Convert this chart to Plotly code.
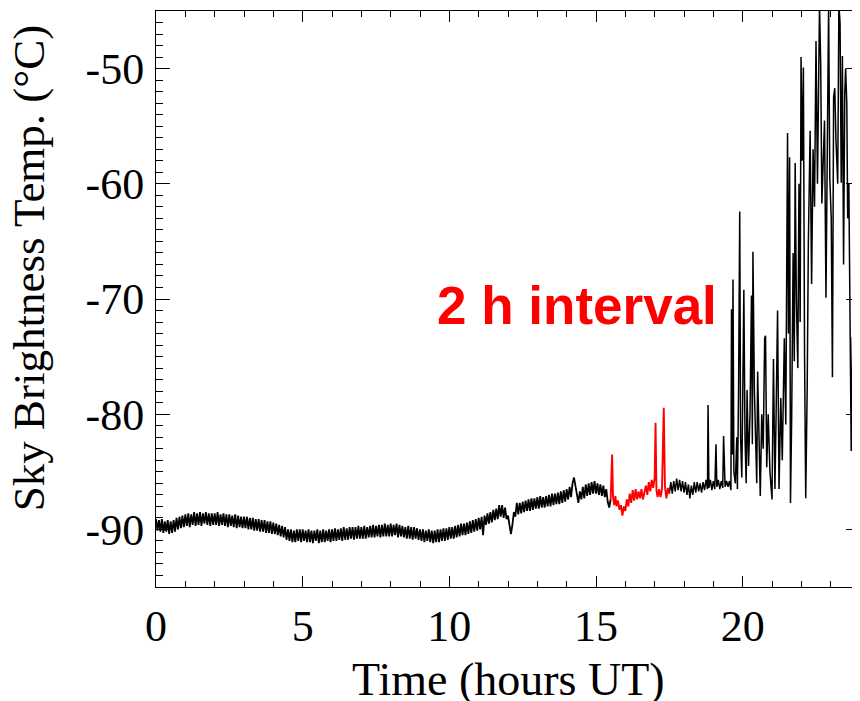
import plotly.graph_objects as go

# ---- black series, 0 h to 15.5 h (3-minute samples) ----
time_a = [
    0.00, 0.05, 0.10, 0.15, 0.20, 0.25, 0.30, 0.35, 0.40, 0.45, 0.50, 0.55, 0.60, 0.65, 0.70, 0.75, 0.80, 0.85, 0.90, 0.95,
    1.00, 1.05, 1.10, 1.15, 1.20, 1.25, 1.30, 1.35, 1.40, 1.45, 1.50, 1.55, 1.60, 1.65, 1.70, 1.75, 1.80, 1.85, 1.90, 1.95,
    2.00, 2.05, 2.10, 2.15, 2.20, 2.25, 2.30, 2.35, 2.40, 2.45, 2.50, 2.55, 2.60, 2.65, 2.70, 2.75, 2.80, 2.85, 2.90, 2.95,
    3.00, 3.05, 3.10, 3.15, 3.20, 3.25, 3.30, 3.35, 3.40, 3.45, 3.50, 3.55, 3.60, 3.65, 3.70, 3.75, 3.80, 3.85, 3.90, 3.95,
    4.00, 4.05, 4.10, 4.15, 4.20, 4.25, 4.30, 4.35, 4.40, 4.45, 4.50, 4.55, 4.60, 4.65, 4.70, 4.75, 4.80, 4.85, 4.90, 4.95,
    5.00, 5.05, 5.10, 5.15, 5.20, 5.25, 5.30, 5.35, 5.40, 5.45, 5.50, 5.55, 5.60, 5.65, 5.70, 5.75, 5.80, 5.85, 5.90, 5.95,
    6.00, 6.05, 6.10, 6.15, 6.20, 6.25, 6.30, 6.35, 6.40, 6.45, 6.50, 6.55, 6.60, 6.65, 6.70, 6.75, 6.80, 6.85, 6.90, 6.95,
    7.00, 7.05, 7.10, 7.15, 7.20, 7.25, 7.30, 7.35, 7.40, 7.45, 7.50, 7.55, 7.60, 7.65, 7.70, 7.75, 7.80, 7.85, 7.90, 7.95,
    8.00, 8.05, 8.10, 8.15, 8.20, 8.25, 8.30, 8.35, 8.40, 8.45, 8.50, 8.55, 8.60, 8.65, 8.70, 8.75, 8.80, 8.85, 8.90, 8.95,
    9.00, 9.05, 9.10, 9.15, 9.20, 9.25, 9.30, 9.35, 9.40, 9.45, 9.50, 9.55, 9.60, 9.65, 9.70, 9.75, 9.80, 9.85, 9.90, 9.95,
    10.00, 10.05, 10.10, 10.15, 10.20, 10.25, 10.30, 10.35, 10.40, 10.45, 10.50, 10.55, 10.60, 10.65, 10.70, 10.75, 10.80, 10.85, 10.90, 10.95,
    11.00, 11.05, 11.10, 11.15, 11.20, 11.25, 11.30, 11.35, 11.40, 11.45, 11.50, 11.55, 11.60, 11.65, 11.70, 11.75, 11.80, 11.85, 11.90, 11.95,
    12.00, 12.05, 12.10, 12.15, 12.20, 12.25, 12.30, 12.35, 12.40, 12.45, 12.50, 12.55, 12.60, 12.65, 12.70, 12.75, 12.80, 12.85, 12.90, 12.95,
    13.00, 13.05, 13.10, 13.15, 13.20, 13.25, 13.30, 13.35, 13.40, 13.45, 13.50, 13.55, 13.60, 13.65, 13.70, 13.75, 13.80, 13.85, 13.90, 13.95,
    14.00, 14.05, 14.10, 14.15, 14.20, 14.25, 14.30, 14.35, 14.40, 14.45, 14.50, 14.55, 14.60, 14.65, 14.70, 14.75, 14.80, 14.85, 14.90, 14.95,
    15.00, 15.05, 15.10, 15.15, 15.20, 15.25, 15.30, 15.35, 15.40, 15.45, 15.50,
]
temp_a = [
    -89.1, -90.1, -89.2, -90.2, -89.1, -90.3, -89.3, -90.2, -89.2, -90.4, -89.3, -90.3, -89.2, -90.2, -89.0, -90.0, -88.9, -89.9, -88.8, -89.8,
    -88.7, -89.7, -88.6, -89.8, -88.7, -89.6, -88.5, -89.7, -88.6, -89.6, -88.5, -89.7, -88.6, -89.5, -88.5, -89.6, -88.6, -89.7, -88.6, -89.6,
    -88.6, -89.6, -88.5, -89.7, -88.7, -89.6, -88.6, -89.7, -88.7, -89.8, -88.7, -89.7, -88.8, -89.8, -88.7, -89.9, -88.8, -89.8, -88.9, -89.9,
    -88.9, -89.9, -88.9, -90.0, -89.0, -90.0, -89.0, -90.1, -89.1, -90.1, -89.1, -90.2, -89.2, -90.2, -89.2, -90.3, -89.3, -90.3, -89.3, -90.4,
    -89.4, -90.4, -89.5, -90.5, -89.6, -90.6, -89.7, -90.7, -89.8, -90.9, -90.0, -91.0, -90.0, -91.1, -90.1, -91.1, -90.0, -91.0, -90.0, -91.1,
    -90.0, -91.0, -90.1, -91.1, -90.0, -91.1, -90.1, -91.2, -90.1, -91.0, -90.0, -91.2, -90.1, -91.1, -90.0, -91.1, -90.1, -91.0, -90.0, -91.1,
    -90.0, -91.0, -89.9, -91.0, -90.0, -90.9, -89.9, -91.0, -89.8, -90.9, -89.9, -90.9, -89.8, -90.8, -89.8, -90.9, -89.8, -90.8, -89.7, -90.8,
    -89.8, -90.8, -89.7, -90.8, -89.8, -90.7, -89.7, -90.7, -89.6, -90.7, -89.7, -90.6, -89.6, -90.7, -89.6, -90.6, -89.5, -90.6, -89.6, -90.6,
    -89.5, -90.6, -89.6, -90.5, -89.5, -90.7, -89.6, -90.6, -89.7, -90.7, -89.8, -90.8, -89.7, -90.8, -89.8, -90.9, -89.8, -90.8, -89.9, -90.9,
    -90.0, -91.0, -90.0, -91.1, -90.1, -91.0, -90.0, -91.1, -90.1, -91.2, -90.1, -91.1, -90.0, -91.1, -90.0, -91.0, -89.9, -91.0, -89.9, -90.9,
    -89.8, -90.8, -89.8, -90.8, -89.7, -90.7, -89.6, -90.6, -89.5, -90.5, -89.5, -90.5, -89.4, -90.4, -89.3, -90.3, -89.2, -90.2, -89.1, -90.1,
    -89.0, -90.0, -88.9, -90.5, -88.8, -89.6, -88.6, -89.5, -88.5, -89.4, -88.3, -89.2, -88.2, -89.1, -87.9, -88.9, -87.9, -89.0, -88.1, -89.1,
    -88.8, -89.7, -90.4, -89.6, -88.5, -88.9, -87.7, -88.7, -87.7, -88.6, -87.6, -88.5, -87.5, -88.4, -87.4, -88.4, -87.3, -88.3, -87.3, -88.2,
    -87.2, -88.2, -87.1, -88.1, -87.2, -88.1, -87.1, -88.0, -87.0, -88.0, -86.9, -87.9, -86.9, -87.8, -86.8, -87.8, -86.7, -87.7, -86.6, -87.6,
    -86.5, -87.4, -86.3, -87.2, -86.0, -85.5, -86.2, -87.0, -87.7, -86.7, -87.4, -86.3, -87.3, -86.1, -87.1, -86.0, -87.0, -85.9, -86.9, -85.8,
    -86.9, -86.0, -87.0, -86.1, -87.1, -86.2, -87.2, -86.5, -87.6, -88.1, -87.4,
]

# ---- red series: the 2 h interval ----
time_red = [
    15.50, 15.55, 15.58, 15.62, 15.66, 15.70, 15.75, 15.80, 15.85, 15.90,
    15.95, 16.00, 16.05, 16.10, 16.15, 16.20, 16.25, 16.30, 16.35, 16.40,
    16.45, 16.50, 16.55, 16.60, 16.65, 16.70, 16.75, 16.80, 16.85, 16.90,
    16.95, 17.00, 17.03, 17.06, 17.10, 17.15, 17.20, 17.25, 17.31, 17.35,
    17.40, 17.45, 17.50,
]
temp_red = [
    -87.4, -83.5, -87.2, -87.9, -87.1, -88.0, -87.5, -88.3, -87.9, -88.8,
    -88.0, -88.4, -87.4, -88.0, -86.9, -87.7, -86.6, -87.5, -86.5, -87.4,
    -86.7, -87.3, -86.5, -87.4, -86.8, -86.2, -87.0, -85.9, -86.7, -85.7,
    -86.4, -85.5, -80.75, -86.6, -87.2, -86.5, -87.2, -86.5, -79.45, -86.3,
    -87.3, -86.4, -86.9,
]

# ---- black series, 17.5 h to 24 h ----
time_b = [
    17.50, 17.55, 17.60, 17.65, 17.70, 17.75, 17.80, 17.85, 17.90, 17.95,
    18.00, 18.05, 18.10, 18.15, 18.20, 18.25, 18.30, 18.35, 18.40, 18.45,
    18.50, 18.55, 18.60, 18.65, 18.70, 18.75, 18.80, 18.82, 18.85, 18.90,
    18.95, 19.00, 19.05, 19.09, 19.12, 19.17, 19.22, 19.27, 19.32, 19.35,
    19.40, 19.45,
    19.50, 19.55, 19.60, 19.62, 19.65, 19.67, 19.70, 19.75, 19.80, 19.82,
    19.86, 19.90, 19.93, 19.97, 20.00, 20.04, 20.08, 20.12, 20.15, 20.20,
    20.25, 20.30, 20.33, 20.35, 20.40, 20.45, 20.48, 20.51, 20.56, 20.60,
    20.65, 20.70, 20.75, 20.78, 20.82, 20.87, 20.93, 21.00, 21.05, 21.10,
    21.14, 21.19, 21.24, 21.30, 21.35, 21.42, 21.47, 21.53, 21.56, 21.60,
    21.63, 21.67, 21.72, 21.76, 21.79, 21.83, 21.88, 21.92, 21.96, 21.99,
    22.03, 22.07, 22.11, 22.15, 22.20, 22.24, 22.30, 22.35, 22.40, 22.45,
    22.50, 22.55, 22.62, 22.66, 22.70, 22.75, 22.79, 22.84, 22.88, 22.93,
    22.97, 23.02, 23.06, 23.10, 23.14, 23.18, 23.24, 23.28, 23.32, 23.36,
    23.40, 23.44, 23.48, 23.51, 23.55, 23.58, 23.62, 23.66, 23.70, 23.74,
    23.78, 23.82, 23.86, 23.89, 23.94, 24.00,
]
temp_b = [
    -86.9, -85.9, -86.9, -85.8, -86.7, -85.6, -86.6, -85.7, -86.7, -85.8,
    -86.8, -85.9, -87.0, -86.1, -87.3, -86.2, -87.0, -85.9, -86.8, -85.9,
    -86.7, -86.0, -86.8, -85.9, -86.6, -85.7, -86.5, -79.2, -86.4, -85.7,
    -86.6, -85.8, -86.5, -82.6, -86.3, -85.7, -86.5, -85.8, -86.4, -81.9,
    -86.3, -85.8,
    -86.3, -85.8, -86.6, -70.9, -83.5, -68.3, -85.0, -86.0, -82.0, -86.5,
    -78.0, -62.4, -82.0, -85.5, -79.0, -69.2, -82.0, -86.0, -77.9, -84.5,
    -80.0, -69.7, -82.6, -65.9, -78.0, -84.0, -86.0, -76.3, -84.0, -87.1,
    -80.0, -83.0, -73.4, -73.2, -84.6, -80.0, -85.0, -87.4, -75.2, -86.5,
    -80.0, -71.0, -86.5, -78.6, -84.0, -73.4, -80.9, -55.6, -73.0, -57.7,
    -87.7, -80.5, -66.0, -75.4, -58.2, -70.0, -76.0, -60.0, -72.0, -49.0,
    -58.0, -49.9, -75.0, -87.3, -77.7, -65.0, -55.4, -68.7, -57.0, -62.0,
    -47.6, -60.0, -44.5, -49.5, -61.7, -58.0, -54.5, -69.9, -57.0, -44.5,
    -59.5, -63.0, -76.8, -52.5, -51.7, -56.2, -60.0, -44.5, -46.0, -59.9,
    -48.9, -67.0, -52.2, -50.0, -53.0, -63.0, -60.0, -74.2, -83.2, -73.3,
    -80.6, -70.0, -82.1, -63.0, -76.0, -82.0,
]

x_ticks = [0, 5, 10, 15, 20]
y_ticks = [-90, -80, -70, -60, -50]
x_title = "Time (hours UT)"
y_title = "Sky Brightness Temp. (°C)"
note_text = "2 h interval"

fig = go.Figure()
fig.add_trace(go.Scatter(x=time_a, y=temp_a, mode="lines",
                         line=dict(color="black", width=1.8), showlegend=False))
fig.add_trace(go.Scatter(x=time_b, y=temp_b, mode="lines",
                         line=dict(color="black", width=1.5), showlegend=False))
fig.add_trace(go.Scatter(x=time_red, y=temp_red, mode="lines",
                         line=dict(color="#ff0000", width=1.9), showlegend=False))

serif = "Liberation Serif, Times New Roman, serif"

# page body adds an 8 px offset; figure is sized so the plot box lands where the reference has it
fig.update_layout(
    width=852, height=693,
    margin=dict(l=148, r=0, t=3, b=114),
    paper_bgcolor="white", plot_bgcolor="white",
    font=dict(family=serif, size=44, color="black"),
    xaxis=dict(
        range=[0, 24], tickvals=x_ticks, ticktext=[str(v) for v in x_ticks],
        ticks="inside", ticklen=11, tickwidth=1, tickcolor="black",
        minor=dict(ticks="inside", ticklen=6, dtick=1, tickcolor="black", tickwidth=1),
        showline=True, linecolor="black", linewidth=1, mirror="allticks",
        showgrid=False, zeroline=False,
        tickfont=dict(family=serif, size=44, color="black"),
        ticklabelstandoff=0,
    ),
    yaxis=dict(
        range=[-95, -45], tickvals=y_ticks, ticktext=[str(v) for v in y_ticks],
        ticks="inside", ticklen=14, tickwidth=1, tickcolor="black",
        minor=dict(ticks="inside", ticklen=7, dtick=1, tickcolor="black", tickwidth=1),
        showline=True, linecolor="black", linewidth=1, mirror="allticks",
        showgrid=False, zeroline=False,
        tickfont=dict(family=serif, size=44, color="black"),
        ticklabelstandoff=2,
    ),
    annotations=[
        dict(text=note_text, x=14.35, y=-70.6, xref="x", yref="y",
             showarrow=False, xanchor="center", yanchor="middle",
             font=dict(family="Liberation Sans, Arial, sans-serif", size=53,
                       color="#ff0000", weight="bold")),
        dict(text=x_title, x=0.5, y=-0.16, xref="paper", yref="paper",
             showarrow=False, xanchor="center", yanchor="middle",
             font=dict(family=serif, size=46, color="black")),
        dict(text=y_title, x=-0.18, y=0.554, xref="paper", yref="paper",
             textangle=-90, showarrow=False, xanchor="center", yanchor="middle",
             font=dict(family=serif, size=45, color="black")),
    ],
)

fig.write_html("out.html")
